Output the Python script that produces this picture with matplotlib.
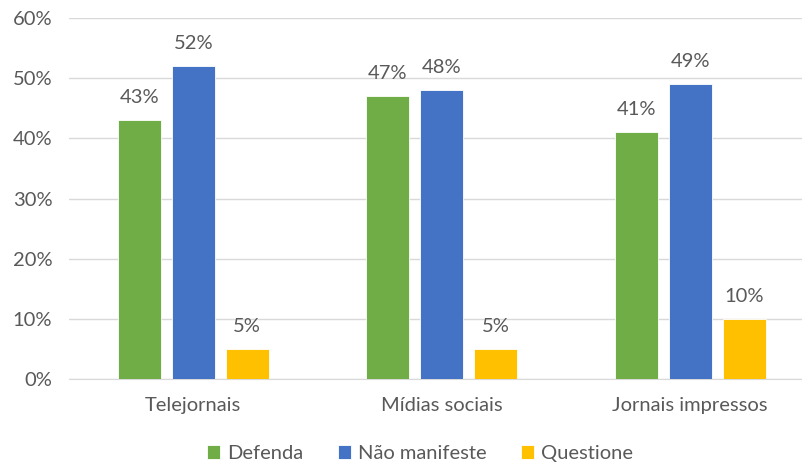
import numpy as np
import matplotlib
matplotlib.use("Agg")
import matplotlib.pyplot as plt
from matplotlib.ticker import PercentFormatter

categories = ["Telejornais", "Mídias sociais", "Jornais impressos"]
series_names = ["Defenda", "Não manifeste", "Questione"]
defenda = [43, 47, 41]
nao_manifeste = [52, 48, 49]
questione = [5, 5, 10]
colors = ["#70AD47", "#4472C4", "#FFC000"]

plt.rcParams['font.family'] = ['Lato', 'DejaVu Sans']
text_color = "#595959"
fs = 14.5

fig = plt.figure(figsize=(8.03, 4.73), dpi=100)
ax = fig.add_axes([69 / 803, 1 - 379 / 473, 745.5 / 803, 361 / 473])

x = np.arange(len(categories))
width = 0.173
step = 0.2175
for i, (name, vals) in enumerate(zip(series_names, [defenda, nao_manifeste, questione])):
    bars = ax.bar(x + (i - 1) * step, vals, width, color=colors[i], label=name,
                  edgecolor="white", linewidth=0.6, zorder=3)
    for b, v in zip(bars, vals):
        ax.annotate(f"{v}%", (b.get_x() + b.get_width() / 2, v),
                    xytext=(0, 10), textcoords="offset points",
                    ha="center", va="bottom", fontsize=fs, color=text_color)

ax.set_xlim(-0.5, 2.5)
ax.set_ylim(0, 60)
ax.set_yticks(range(0, 61, 10))
ax.yaxis.set_major_formatter(PercentFormatter(decimals=0))
ax.set_xticks(x)
ax.set_xticklabels(categories)
ax.grid(axis="y", color="#D9D9D9", linewidth=1, zorder=0)
for s in ["top", "right", "left"]:
    ax.spines[s].set_visible(False)
ax.spines["bottom"].set_color("#D9D9D9")
ax.tick_params(axis="both", length=0, labelsize=fs, colors=text_color)
ax.tick_params(axis="x", pad=13)
ax.tick_params(axis="y", pad=12)

leg = fig.legend(loc="lower center", bbox_to_anchor=(0.523, -0.015), ncol=3, frameon=False,
                 fontsize=fs, handlelength=0.65, handleheight=0.65, handletextpad=0.35,
                 columnspacing=1.7)
for t in leg.get_texts():
    t.set_color(text_color)

fig.savefig("out.png", dpi=100)
